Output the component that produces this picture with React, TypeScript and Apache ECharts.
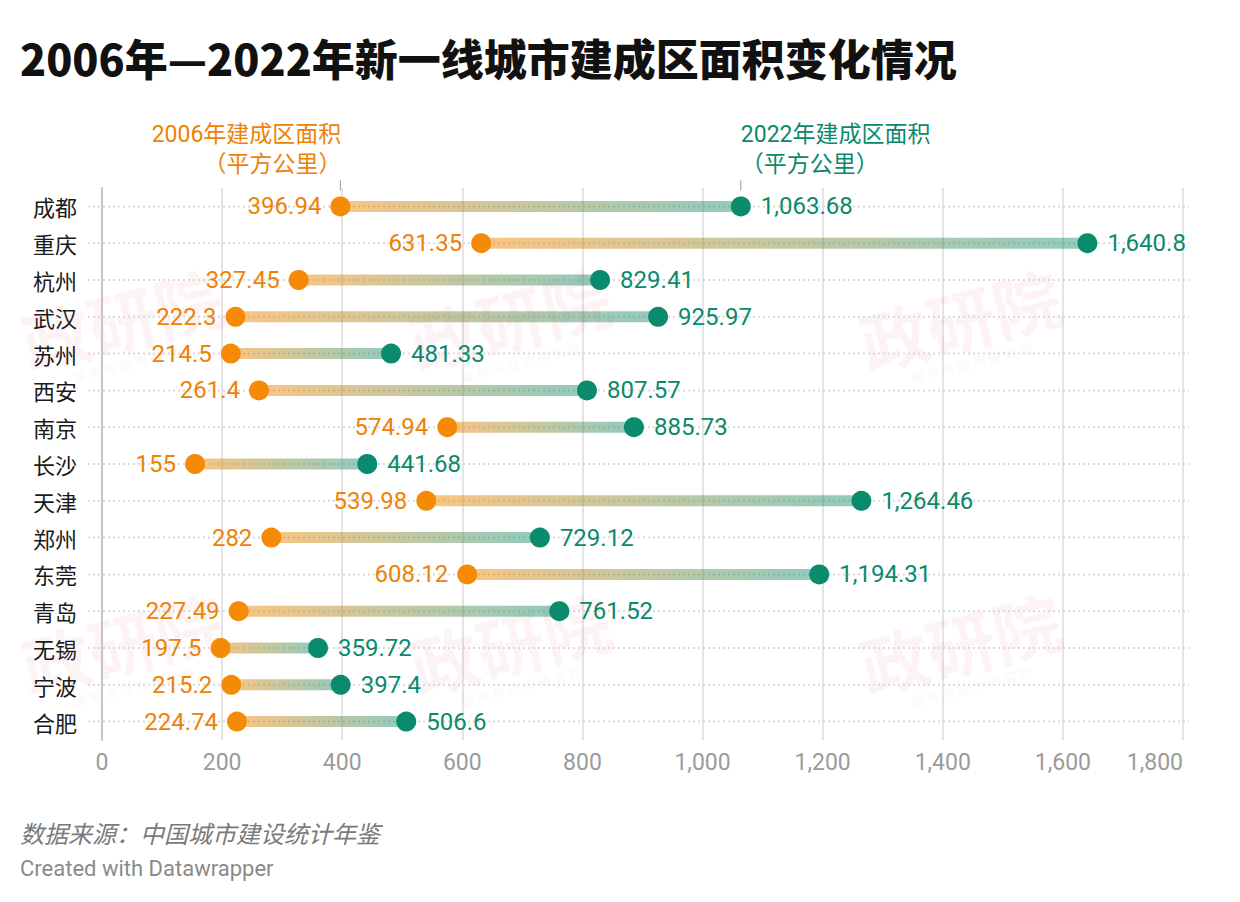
import React, { useEffect, useRef } from "react";
import * as echarts from "echarts";

const cities = ["成都", "重庆", "杭州", "武汉", "苏州", "西安", "南京", "长沙", "天津", "郑州", "东莞", "青岛", "无锡", "宁波", "合肥"];
const area2006 = [396.94, 631.35, 327.45, 222.3, 214.5, 261.4, 574.94, 155, 539.98, 282, 608.12, 227.49, 197.5, 215.2, 224.74];
const area2022 = [1063.68, 1640.8, 829.41, 925.97, 481.33, 807.57, 885.73, 441.68, 1264.46, 729.12, 1194.31, 761.52, 359.72, 397.4, 506.6];
const xMin = 0;
const xMax = 1800;
const xInterval = 200;

const titleText = "2006年—2022年新一线城市建成区面积变化情况";
const label2006 = "2006年建成区面积\n（平方公里）";
const label2022 = "2022年建成区面积\n（平方公里）";
const sourceText = "数据来源：中国城市建设统计年鉴";
const creditText = "Created with Datawrapper";
const watermarkMain = "政研院";
const watermarkSub = "城 市 与 政 府 研 究 院";

const ORANGE = "#f58a07";
const GREEN = "#0b8b6d";
const ORANGE_TXT = "#ee8207";
const GREEN_TXT = "#0a8a6c";
const FONT = "Roboto, 'Noto Sans CJK SC', sans-serif";
const CJK = "'Noto Sans CJK SC', Roboto, sans-serif";

const fmt = (v: number) => v.toLocaleString("en-US", { maximumFractionDigits: 2 });

export default function App() {
  const ref = useRef<HTMLDivElement>(null);
  useEffect(() => {
    document.body.style.margin = "0";
    const chart = echarts.init(ref.current!, null, { renderer: "svg" });

    const wmPos: number[][] = [];
    [122, 510, 960].forEach((x) => [318, 642].forEach((y) => wmPos.push([x, y])));

    const option: any = {
      animation: false,
      backgroundColor: "#ffffff",
      grid: { left: 102, right: 57, top: 188, bottom: 162, containLabel: false },
      xAxis: {
        type: "value",
        min: xMin,
        max: xMax,
        interval: xInterval,
        axisLine: { show: false },
        axisTick: { show: false },
        splitLine: { show: true, lineStyle: { color: "#e4e4e4", width: 2 } },
        axisLabel: {
          color: "#9b9b9b",
          fontSize: 23,
          fontFamily: FONT,
          margin: 11,
          alignMaxLabel: "right",
          formatter: (v: number) => fmt(v),
        },
      },
      yAxis: {
        type: "category",
        data: cities,
        inverse: true,
        axisLine: { show: true, lineStyle: { color: "#c4c4c4", width: 2 } },
        axisTick: { show: false },
        splitLine: { show: false },
        axisLabel: { color: "#1a1a1a", fontSize: 22, fontFamily: CJK, margin: 25 },
      },
      series: [
        {
          type: "custom",
          clip: false,
          z: 1,
          data: cities.map((c, i) => [area2006[i], area2022[i], i]),
          encode: { x: [0, 1], y: 2 },
          renderItem: (params: any, api: any) => {
            const cs = params.coordSys;
            const p1 = api.coord([api.value(0), api.value(2)]);
            const p2 = api.coord([api.value(1), api.value(2)]);
            const h = 11;
            return {
              type: "group",
              children: [
                {
                  type: "line",
                  shape: { x1: cs.x - 14, y1: p1[1], x2: cs.x + cs.width + 6, y2: p1[1] },
                  style: { stroke: "#d9d9d9", lineWidth: 2, lineDash: [2, 3] },
                },
                {
                  type: "rect",
                  shape: { x: p1[0], y: p1[1] - h / 2, width: p2[0] - p1[0], height: h },
                  style: {
                    fill: new echarts.graphic.LinearGradient(0, 0, 1, 0, [
                      { offset: 0, color: "rgba(245,138,7,0.5)" },
                      { offset: 1, color: "rgba(11,139,109,0.45)" },
                    ]),
                  },
                },
              ],
            };
          },
        },
        {
          type: "scatter",
          z: 3,
          symbolSize: 20,
          itemStyle: { color: ORANGE, opacity: 1 },
          data: area2006.map((v, i) => [v, i]),
          label: {
            show: true,
            position: "left",
            distance: 9,
            color: ORANGE_TXT,
            fontSize: 24,
            fontFamily: FONT,
            formatter: (p: any) => fmt(p.value[0]),
          },
        },
        {
          type: "scatter",
          z: 3,
          symbolSize: 20,
          itemStyle: { color: GREEN, opacity: 1 },
          data: area2022.map((v, i) => [v, i]),
          label: {
            show: true,
            position: "right",
            distance: 10,
            color: GREEN_TXT,
            fontSize: 24,
            fontFamily: FONT,
            formatter: (p: any) => fmt(p.value[0]),
          },
        },
      ],
    };
    chart.setOption(option);

    const a = chart.convertToPixel({ gridIndex: 0 }, [area2006[0], 0]) as number[];
    const b = chart.convertToPixel({ gridIndex: 0 }, [area2022[0], 0]) as number[];

    const graphic: any[] = [];
    wmPos.forEach(([x, y]) => {
      graphic.push({
        type: "group",
        x,
        y,
        rotation: 0.25,
        z: 0,
        silent: true,
        children: [
          {
            type: "text",
            x: 0,
            y: 0,
            style: {
              text: watermarkMain,
              fontSize: 68,
              fontWeight: "bold",
              fontFamily: CJK,
              fill: "rgba(226,40,70,0.055)",
              align: "center",
              verticalAlign: "middle",
            },
          },
          {
            type: "text",
            x: 0,
            y: 46,
            style: {
              text: watermarkSub,
              fontSize: 13,
              fontWeight: "bold",
              fontFamily: CJK,
              fill: "rgba(226,40,70,0.055)",
              align: "center",
              verticalAlign: "middle",
            },
          },
        ],
      });
    });

    graphic.push(
      {
        type: "text",
        x: 20,
        y: 57,
        z: 10,
        style: {
          text: titleText,
          fontSize: 43,
          fontWeight: 900,
          fontFamily: CJK,
          fill: "#111111",
          verticalAlign: "middle",
        },
      },
      {
        type: "line",
        z: 10,
        shape: { x1: a[0], y1: a[1] - 26, x2: a[0], y2: a[1] - 16 },
        style: { stroke: "#999999", lineWidth: 1 },
      },
      {
        type: "line",
        z: 10,
        shape: { x1: b[0], y1: b[1] - 26, x2: b[0], y2: b[1] - 16 },
        style: { stroke: "#999999", lineWidth: 1 },
      },
      {
        type: "text",
        x: a[0] + 1,
        y: a[1] - 27,
        z: 10,
        style: {
          text: label2006,
          fontSize: 23,
          lineHeight: 30,
          fontFamily: FONT,
          fill: ORANGE_TXT,
          align: "right",
          verticalAlign: "bottom",
        },
      },
      {
        type: "text",
        x: b[0],
        y: b[1] - 27,
        z: 10,
        style: {
          text: label2022,
          fontSize: 23,
          lineHeight: 30,
          fontFamily: FONT,
          fill: GREEN_TXT,
          align: "left",
          verticalAlign: "bottom",
        },
      },
      {
        type: "text",
        x: 20,
        y: 832,
        z: 10,
        style: {
          text: sourceText,
          fontSize: 24,
          fontStyle: "italic",
          fontFamily: CJK,
          fill: "#7a7a7a",
          verticalAlign: "middle",
        },
      },
      {
        type: "text",
        x: 20,
        y: 868,
        z: 10,
        style: {
          text: creditText,
          fontSize: 22,
          fontFamily: FONT,
          fill: "#8a8a8a",
          verticalAlign: "middle",
        },
      }
    );
    chart.setOption({ graphic });

    return () => chart.dispose();
  }, []);
  return <div ref={ref} style={{ width: 1240, height: 902 }} />;
}
